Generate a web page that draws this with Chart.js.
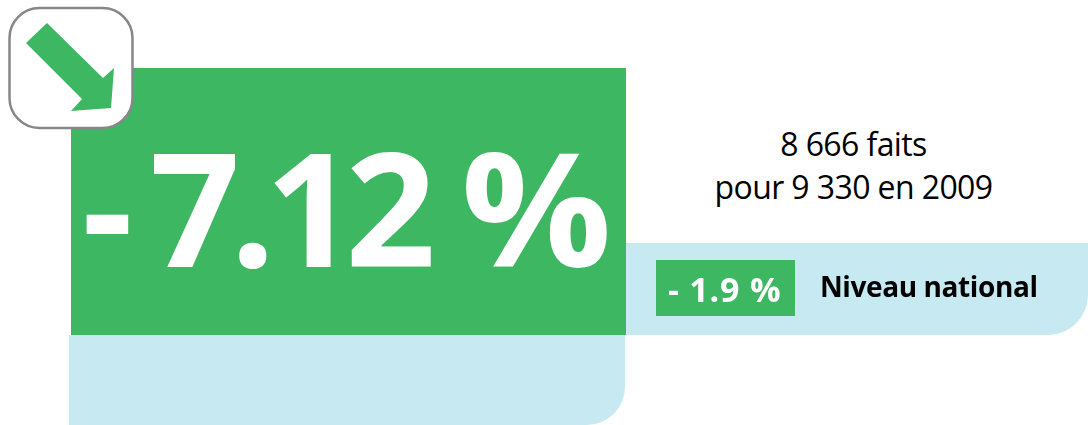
<!DOCTYPE html>
<html lang="fr">
<head>
<meta charset="utf-8">
<title>-7.12 %</title>
<script src="https://cdn.jsdelivr.net/npm/chart.js@4.4.7/dist/chart.umd.min.js"></script>
<style>
  html, body { margin: 0; padding: 0; background: #fff; }
  #page { position: relative; width: 1088px; height: 425px; overflow: hidden; font-family: "Open Sans", sans-serif; }
  #page > * { position: absolute; }
  .panel { background: #c7e9f2; }
  #panelMain { left: 69px; top: 335px; width: 556px; height: 90px; border-bottom-right-radius: 38px; }
  #panelNational { left: 626px; top: 243px; width: 462px; height: 92px; border-bottom-right-radius: 40px; }
  #barMain { left: 71px; top: 68px; width: 555px; height: 267px; }
  #barNational { left: 656px; top: 260px; width: 139px; height: 56px; }
  #icon { left: 0; top: 0; }
  .label { white-space: nowrap; line-height: 1; }
  #mainLabel { left: 82px; top: 127px; color: #fff; font-size: 158px; font-weight: 700; }
  #mainDigits { margin-left: 17px; letter-spacing: -10px; }
  #mainPercent { display: inline-block; margin-left: -6px; transform: scaleX(1.06); transform-origin: left center; }
  #nationalLabel { left: 668px; top: 272px; color: #fff; font-size: 34px; font-weight: 700; letter-spacing: 0.8px; }
  #nationalName { left: 820px; top: 272px; color: #000; font-size: 28px; font-weight: 700; letter-spacing: -0.4px; }
  #factsLine1, #factsLine2 { left: 626px; width: 455px; text-align: center; color: #000; font-size: 32px; letter-spacing: -0.6px; }
  #factsLine1 { top: 128px; }
  #factsLine2 { top: 171px; }
</style>
</head>
<body>
<div id="page">
  <div class="panel" id="panelMain"></div>
  <div class="panel" id="panelNational"></div>
  <canvas id="barMain" width="555" height="267"></canvas>
  <canvas id="barNational" width="139" height="56"></canvas>
  <svg id="icon" width="140" height="135">
    <rect x="9.5" y="8" width="123" height="120" rx="30" fill="#fff" stroke="#87878b" stroke-width="2.5"/>
    <polygon points="47,23 103,78 114,68 111,108 71,111 82,99 26,43" fill="#3eb762"/>
  </svg>
  <div class="label" id="mainLabel"><span id="mainSign"></span><span id="mainDigits"></span> <span id="mainPercent"></span></div>
  <div class="label" id="nationalLabel"></div>
  <div class="label" id="nationalName"></div>
  <div class="label" id="factsLine1"></div>
  <div class="label" id="factsLine2"></div>
</div>
<script>
const categories = ["Local", "Niveau national"];
const changeValues = [-7.12, -1.9];
const changeLabels = ["-7.12 %", "- 1.9 %"];
const factLines = ["8 666 faits", "pour 9 330 en 2009"];

const GREEN = "#3eb762";

function drawBar(canvasId, index) {
  // one bar per canvas, the x axis stops at the value so the bar fills its box
  return new Chart(document.querySelector(canvasId), {
    type: "bar",
    data: {
      labels: [categories[index]],
      datasets: [{
        data: [changeValues[index]],
        backgroundColor: GREEN,
        borderWidth: 0,
        barPercentage: 1,
        categoryPercentage: 1,
      }],
    },
    options: {
      indexAxis: "y",
      responsive: false,
      animation: false,
      layout: { padding: 0 },
      plugins: { legend: { display: false }, tooltip: { enabled: false } },
      scales: {
        x: { display: false, min: changeValues[index], max: 0 },
        y: { display: false },
      },
    },
  });
}

drawBar("#barMain", 0);
drawBar("#barNational", 1);

// the big label is split in three so sign, digits and % can be spaced apart
const mainParts = changeLabels[0].split(" ");
document.querySelector("#mainSign").textContent = mainParts[0].slice(0, 1);
document.querySelector("#mainDigits").textContent = mainParts[0].slice(1);
document.querySelector("#mainPercent").textContent = mainParts[1];
document.querySelector("#nationalLabel").textContent = changeLabels[1];
document.querySelector("#nationalName").textContent = categories[1];
document.querySelector("#factsLine1").textContent = factLines[0];
document.querySelector("#factsLine2").textContent = factLines[1];
</script>
</body>
</html>
